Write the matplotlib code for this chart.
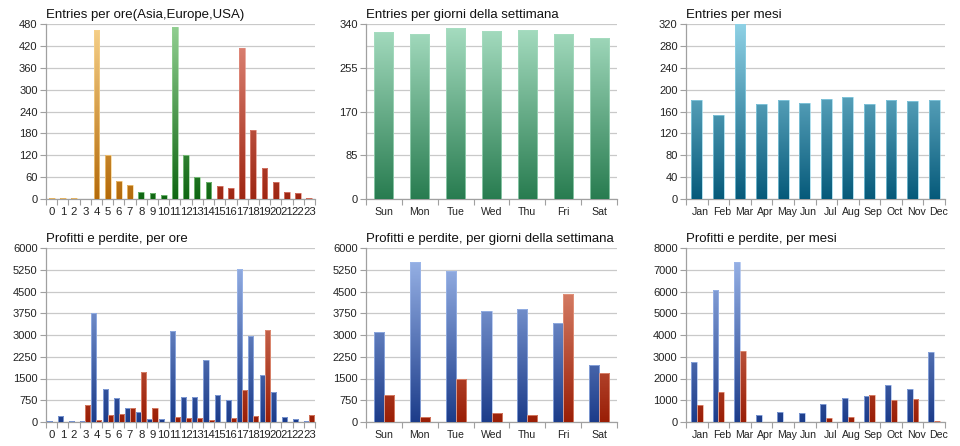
import numpy as np
import matplotlib
matplotlib.use("Agg")
import matplotlib.pyplot as plt
from matplotlib.colors import LinearSegmentedColormap

plt.rcParams['font.family'] = ['Liberation Sans', 'DejaVu Sans']

# ---------------- data ----------------
hours = [str(h) for h in range(24)]
entries_hours = [3, 3, 2, 0, 463, 120, 49, 38, 18, 16, 12, 473, 120, 60, 46,
                 36, 30, 413, 190, 84, 46, 20, 16, 4]
hour_region = ['asia'] * 8 + ['europe'] * 7 + ['usa'] * 9

days = ['Sun', 'Mon', 'Tue', 'Wed', 'Thu', 'Fri', 'Sat']
entries_days = [324, 320, 332, 326, 328, 320, 313]

months = ['Jan', 'Feb', 'Mar', 'Apr', 'May', 'Jun', 'Jul', 'Aug', 'Sep', 'Oct', 'Nov', 'Dec']
entries_months = [181, 154, 320, 174, 181, 176, 182, 186, 174, 181, 179, 181]

profit_hours = [25, 218, 20, 45, 3767, 1122, 813, 492, 343, 103, 92, 3137, 870, 858,
                2130, 939, 767, 5260, 2980, 1615, 1042, 172, 103, 34]
loss_hours = [0, 0, 0, 584, 69, 240, 275, 481, 1740, 481, 5, 183, 137, 137,
              80, 10, 137, 1088, 206, 3183, 0, 0, 0, 240]

profit_days = [3092, 5519, 5199, 3825, 3882, 3412, 1981]
loss_days = [939, 160, 1500, 309, 240, 4408, 1706]

profit_months = [2748, 6046, 7374, 320, 473, 412, 824, 1099, 1176, 1679, 1527, 3237]
loss_months = [779, 1374, 3282, 10, 8, 8, 198, 244, 1221, 1023, 1053, 61]

# ---------------- styles ----------------
GRAD = {
    'asia': ('#f7d28c', '#b46a0a'),
    'europe': ('#93d093', '#0f6612'),
    'usa': ('#e28c7e', '#9e2612'),
    'days': ('#a8dec2', '#287c50'),
    'months': ('#90d2e6', '#065a7a'),
    'profit': ('#a0baec', '#1c3c8a'),
    'loss': ('#e89c84', '#9a1e06'),
}
GRID = '#c9c9c9'
AXC = '#a0a0a0'
TEXT = '#222222'

W, H = 960, 446
fig = plt.figure(figsize=(W / 100, H / 100), dpi=100)


def px_axes(x0, y0, x1, y1):
    return fig.add_axes([x0 / W, 1 - y1 / H, (x1 - x0) / W, (y1 - y0) / H])


def grad_bars(ax, x, heights, width, keys, ymax):
    bars = ax.bar(x, heights, width=width, color='none', edgecolor='none', zorder=3)
    grad = np.linspace(1, 0, 256).reshape(-1, 1)
    for b, k in zip(bars, keys):
        top, bot = GRAD[k]
        cmap = LinearSegmentedColormap.from_list(k, [bot, top])
        bx, bw = b.get_x(), b.get_width()
        im = ax.imshow(grad, extent=[bx, bx + bw, 0, ymax], aspect='auto',
                       cmap=cmap, vmin=0, vmax=1, zorder=3, interpolation='bilinear')
        im.set_clip_path(b)
        ax.add_patch(plt.Rectangle((bx, 0), bw, b.get_height(), fill=False,
                                   edgecolor=top, linewidth=0.5, zorder=4))
    return bars


def style(ax, title, ymax, major, minor, n, labels, label_dx=0.0, fs=7.6):
    ax.set_xlim(-0.5, n - 0.5)
    ax.set_ylim(0, ymax)
    ax.set_yticks(np.arange(0, ymax + 0.01, major))
    ax.set_yticklabels([f'{v:g}' for v in np.arange(0, ymax + 0.01, major)])
    ax.set_yticks(np.arange(0, ymax + 0.01, minor), minor=True)
    ax.yaxis.grid(True, which='both', color=GRID, linewidth=0.9, zorder=0)
    ax.set_axisbelow(True)
    for s in ('top', 'right'):
        ax.spines[s].set_visible(False)
    for s in ('left', 'bottom'):
        ax.spines[s].set_color(AXC)
        ax.spines[s].set_linewidth(0.9)
    ax.tick_params(axis='y', which='major', length=4, color=AXC, labelsize=8,
                   labelcolor=TEXT, pad=2)
    ax.tick_params(axis='y', which='minor', length=0)
    # category boundary ticks
    ax.set_xticks(np.arange(-0.5, n, 1.0))
    ax.set_xticklabels([])
    ax.tick_params(axis='x', which='major', length=4, color=AXC)
    ax.set_xticks(np.arange(n) + label_dx, minor=True)
    ax.set_xticklabels(labels, minor=True)
    ax.tick_params(axis='x', which='minor', length=0, labelsize=fs, labelcolor=TEXT, pad=6)
    ax.set_title(title, loc='left', fontsize=9.5, color='#111111', pad=4, x=-0.0)


# ---- top-left
ax = px_axes(46, 24, 315, 199)
grad_bars(ax, np.arange(24), entries_hours, 0.52, hour_region, 480)
style(ax, 'Entries per ore(Asia,Europe,USA)', 480, 60, 60, 24, hours, fs=8.2)

# ---- top-middle
ax = px_axes(366, 24, 617, 199)
grad_bars(ax, np.arange(7), entries_days, 0.53, ['days'] * 7, 340)
style(ax, 'Entries per giorni della settimana', 340, 85, 42.5, 7, days)

# ---- top-right
ax = px_axes(686, 24, 945, 199)
grad_bars(ax, np.arange(12), entries_months, 0.5, ['months'] * 12, 320)
style(ax, 'Entries per mesi', 320, 40, 40, 12, months, label_dx=0.18)

# ---- bottom-left
ax = px_axes(46, 248, 315, 422)
xh = np.arange(24)
grad_bars(ax, xh - 0.225, profit_hours, 0.45, ['profit'] * 24, 6000)
grad_bars(ax, xh + 0.225, loss_hours, 0.45, ['loss'] * 24, 6000)
style(ax, 'Profitti e perdite, per ore', 6000, 750, 750, 24, hours, fs=8.2)

# ---- bottom-middle
ax = px_axes(366, 248, 617, 422)
xd = np.arange(7)
grad_bars(ax, xd - 0.14, profit_days, 0.28, ['profit'] * 7, 6000)
grad_bars(ax, xd + 0.14, loss_days, 0.28, ['loss'] * 7, 6000)
style(ax, 'Profitti e perdite, per giorni della settimana', 6000, 750, 750, 7, days)

# ---- bottom-right
ax = px_axes(686, 248, 945, 422)
xm = np.arange(12)
grad_bars(ax, xm - 0.135, profit_months, 0.27, ['profit'] * 12, 8000)
grad_bars(ax, xm + 0.135, loss_months, 0.27, ['loss'] * 12, 8000)
style(ax, 'Profitti e perdite, per mesi', 8000, 1000, 1000, 12, months, label_dx=0.18)

fig.savefig('out.png', dpi=100, facecolor='white')
